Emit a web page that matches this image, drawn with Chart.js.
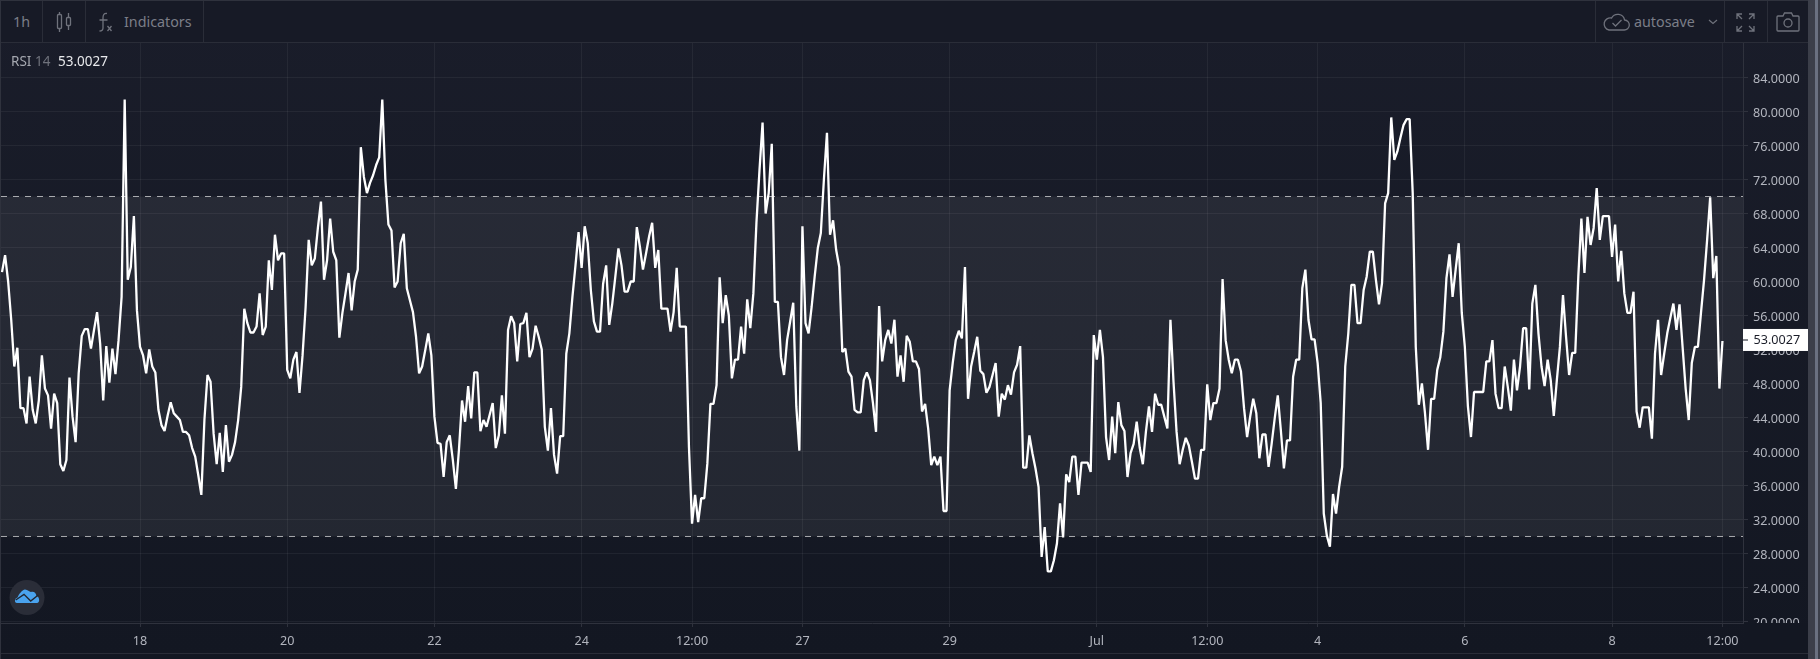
<!DOCTYPE html>
<html><head><meta charset="utf-8">
<style>
html,body{margin:0;padding:0;background:#2f323d;width:1820px;height:659px;overflow:hidden}
#wrap{position:absolute;left:0;top:0;width:1820px;height:659px;overflow:hidden;font-family:"Noto Sans",sans-serif}
#panel{position:absolute;left:1px;top:1px;width:1807px;height:658px;background:linear-gradient(#1a1d2a 0,#131722 653px)}
#tb{position:absolute;left:1px;top:1px;width:1807px;height:42px;background:#171a26;border-bottom:1px solid #2a2d38;box-sizing:border-box}
.sep{position:absolute;top:1px;width:1px;height:42px;background:#2a2d38}
.t{position:absolute;white-space:pre;font-size:14.3px;line-height:18px;color:#7b7e88}
canvas{position:absolute;left:0;top:0}
#mask{position:absolute;left:1744px;top:623px;width:64px;height:30px;background:#131722}
#botline{position:absolute;left:1px;top:653px;width:1807px;height:1px;background:#2a2d38}
#strip{position:absolute;left:1808px;top:0;width:12px;height:659px;background:#3b3e49}
#strip2{position:absolute;left:1815px;top:0;width:3px;height:659px;background:#6a7080}
svg{position:absolute;overflow:visible}
</style></head><body>
<div id="wrap">
<div id="panel"></div>
<canvas id="c" width="1820" height="659"></canvas>
<div id="mask"></div>
<div id="botline"></div>
<div id="tb"></div>
<div class="sep" style="left:42px"></div><div class="sep" style="left:85px"></div><div class="sep" style="left:203px"></div>
<div class="sep" style="left:1595px"></div><div class="sep" style="left:1724px"></div><div class="sep" style="left:1767px"></div>
<div id="strip"></div><div id="strip2"></div>
<div class="t" style="left:13px;top:13px">1h</div>
<svg style="left:56px;top:11px" width="18" height="22" fill="none" stroke="#6f727c" stroke-width="1.3"><rect x="1.5" y="3.5" width="4" height="14" rx="1"/><path d="M3.5 1v2.5M3.5 17.5V21"/><rect x="10.5" y="6.5" width="4" height="8" rx="1"/><path d="M12.5 2v4.500M12.500 14.500V19"/></svg>
<svg style="left:98px;top:12px" width="18" height="20" fill="none" stroke="#6f727c" stroke-width="1.300"><path d="M9 1.500C6 1 5 3 5 6v10c0 2-1 3-3.500 3M1.500 8h8"/><path d="M9.500 14l4 5M13.500 14l-4 5"/></svg>
<div class="t" style="left:124px;top:13px">Indicators</div>
<svg style="left:1603px;top:12px" width="28" height="20" fill="none" stroke="#6f727c" stroke-width="1.300"><path d="M6 18h15a5 5 0 0 0 .6-10 7 7 0 0 0-13-2A6 6 0 0 0 6 18z"/><path d="M9.500 11l3 3 6-6"/></svg>
<div class="t" style="left:1634px;top:13px">autosave</div>
<svg style="left:1708px;top:19px" width="10" height="6" fill="none" stroke="#6f727c" stroke-width="1.200"><path d="M1 1l4 3.500L9 1"/></svg>
<svg style="left:1736px;top:13px" width="19" height="19" fill="none" stroke="#6f727c" stroke-width="1.300"><path d="M1 6V1h5M1 1l5 5M18 6V1h-5M18 1l-5 5M1 13v5h5M1 18l5-5M18 13v5h-5M18 18l-5-5"/></svg>
<svg style="left:1776px;top:12px" width="24" height="20" fill="none" stroke="#6f727c" stroke-width="1.300"><path d="M2 4h5l1.500-3h7l1.500 3h5a1 1 0 0 1 1 1v13a1 1 0 0 1-1 1H2a1 1 0 0 1-1-1V5a1 1 0 0 1 1-1z"/><circle cx="12" cy="11" r="4"/></svg>
<div class="t" style="left:11px;top:52px;font-size:13.5px;color:#a5a8b0">RSI <span style="color:#6f727c">14</span></div>
<div class="t" style="left:58px;top:52px;font-size:13.5px;color:#e8e9ec">53.0027</div>
<svg style="left:9px;top:580px" width="36" height="36"><circle cx="18" cy="17.500" r="17.500" fill="#2a2d38"/><path d="M8 23C5 23 5.500 18 8.500 17.500 10 14 13 10 16 9.500 19 9.500 20 12 22 12 24 11 27 12 27.500 16 31 17 31 23 28 23Z" fill="#4aa3ee"/><path d="M6.700 20L15 14.300 21.700 21 29.300 15" fill="none" stroke="#22252f" stroke-width="1.400"/></svg>
</div>
<script src="https://cdn.jsdelivr.net/npm/chart.js@4/dist/chart.umd.min.js"></script>
<script>
const rsiValues = [
61.1,63.1,60.0,55.5,50.0,52.2,45.1,45.1,43.3,48.8,44.9,43.3,46.0,51.3,47.4,46.6,42.7,46.8,45.7,38.5,
37.7,39.0,48.7,44.1,41.1,49.2,53.6,54.4,54.4,52.1,54.3,56.4,52.7,46.0,52.4,48.1,52.1,49.1,53.1,58.2,
81.4,60.2,61.7,67.7,56.6,52.3,51.3,49.2,52.0,50.0,49.3,44.9,43.1,42.4,44.2,45.8,44.5,44.1,43.7,42.3,
42.3,41.9,40.4,39.4,37.2,34.9,43.7,49.0,48.2,42.1,38.5,42.2,37.6,43.1,38.8,39.6,41.1,43.7,47.6,56.8,
55.1,54.0,54.0,54.7,58.6,53.7,54.7,62.5,59.0,65.5,62.5,63.3,63.3,49.6,48.6,50.8,51.7,46.9,51.3,57.0,
64.9,61.9,62.7,66.3,69.4,60.2,62.5,67.4,63.5,62.5,53.4,56.3,58.6,61.0,56.6,60.0,61.4,75.8,72.3,70.4,
71.6,72.5,73.7,74.6,81.4,72.0,66.7,66.0,59.3,60.0,64.5,65.6,59.2,57.8,56.4,53.5,49.2,50.0,51.9,53.9,
51.3,44.1,41.0,40.9,37.0,41.1,41.9,39.0,35.6,40.2,46.0,43.5,47.7,43.9,49.3,49.3,42.4,43.7,42.9,44.3,
45.7,40.4,41.9,46.6,42.1,54.3,55.9,55.1,50.6,55.0,55.1,56.3,51.1,52.1,54.8,53.5,52.0,42.9,40.1,45.1,
39.6,37.4,41.8,41.8,51.5,53.9,58.2,61.9,65.8,61.6,66.5,64.5,59.0,55.3,54.1,54.1,59.7,61.9,54.9,57.4,
60.6,63.9,61.9,58.8,58.8,60.0,60.0,66.4,64.1,61.4,63.3,65.3,66.9,61.6,63.7,56.8,56.8,56.8,54.1,56.4,
61.6,54.7,54.7,54.7,40.5,31.5,34.9,31.7,34.5,34.5,38.6,45.6,45.6,47.8,60.5,55.1,58.4,56.0,48.6,50.8,
50.8,54.7,51.5,57.9,54.5,58.6,66.9,73.1,78.7,68.0,70.4,76.2,57.6,57.6,51.1,49.0,53.1,55.3,57.5,45.3,
40.1,66.5,55.1,53.9,57.0,60.6,63.9,65.7,72.0,77.5,65.5,67.2,63.7,61.7,51.7,52.1,49.4,48.8,44.9,44.6,
44.6,48.4,49.3,48.4,45.7,42.3,57.1,50.6,53.1,54.3,52.7,55.5,48.8,51.3,48.2,53.6,52.9,50.6,50.6,49.7,
44.7,45.6,42.7,38.4,39.4,38.4,39.4,33.0,33.0,47.2,50.4,53.1,54.2,53.3,61.7,46.2,50.0,51.7,53.5,49.5,
49.1,46.9,47.6,49.0,50.4,44.1,46.8,46.1,47.8,46.7,49.3,50.2,52.4,38.1,38.1,41.9,39.8,38.0,35.8,27.6,
31.1,25.9,25.9,27.2,29.2,33.9,29.9,37.3,36.4,39.4,39.4,34.9,38.7,38.7,38.7,37.6,53.7,50.8,54.3,51.1,
41.7,39.0,44.1,39.8,45.8,43.1,42.4,37.0,39.8,40.9,43.5,40.4,38.5,42.3,45.3,42.3,46.8,45.5,45.5,44.1,
42.7,55.5,48.2,42.3,38.5,40.2,41.6,40.7,38.8,36.8,36.8,40.2,40.2,47.9,43.7,45.7,45.7,47.4,60.3,53.1,
50.8,49.2,50.8,50.8,49.4,45.1,41.7,44.1,46.2,44.5,39.2,42.0,42.0,38.2,40.9,43.9,46.6,42.5,38.0,41.3,
41.3,48.8,50.8,50.8,59.2,61.4,55.5,53.2,53.2,50.4,45.7,32.7,30.1,28.8,35.0,32.7,35.8,38.2,50.0,53.9,
59.6,59.6,55.1,55.1,59.0,60.6,63.5,63.5,60.2,57.3,59.8,69.2,70.4,79.3,74.3,75.3,76.9,78.4,79.1,79.1,
70.4,52.3,45.5,48.0,44.5,40.2,46.2,46.2,49.6,51.1,54.1,60.4,63.2,58.2,61.4,64.5,56.3,52.3,45.3,41.7,
47.0,47.0,47.0,47.0,50.6,50.6,53.1,46.8,45.1,45.1,50.0,47.6,44.8,50.8,47.2,50.0,54.5,54.5,47.3,57.4,
59.6,53.9,50.0,47.7,50.8,48.4,44.2,48.4,52.3,58.4,53.5,49.0,51.6,51.6,60.6,67.4,61.0,67.6,64.3,66.3,
71.0,64.9,67.7,67.7,67.7,62.9,66.7,60.0,63.6,58.6,56.3,56.3,58.8,44.7,42.8,45.2,45.2,45.2,41.5,51.5,
55.5,49.0,51.5,53.9,55.7,57.4,54.3,57.3,52.3,47.4,43.7,50.4,52.3,52.3,56.3,60.2,64.9,69.9,60.4,63.0,
47.4,53.0027];
const xTickHours = [45,93,141,189,225,261,309,357,393,429,477,525,561];
const xTickLabels = ['18','20','22','24','12:00','27','29','Jul','12:00','4','6','8','12:00'];
const yTickValues = [20,24,28,32,36,40,44,48,52,56,60,64,68,72,76,80,84];
const bandLimits = [70,30];
const lastLabel = '53.0027';
const xMin = -0.33, xMax = 567.7, yMin = 19.82, yMax = 88.06;

const GRID = 'rgba(255,255,255,0.055)';
const FONT = {family:'"Noto Sans",sans-serif', size:12.6};
const hline = v => [{x:xMin,y:v},{x:xMax,y:v}];
const lastTag = {
  id:'lastTag',
  afterDraw(ch){
    const c=ch.ctx, y=ch.scales.y.getPixelForValue(rsiValues[rsiValues.length-1])-1;
    const L=1743,R=1809,H=22;
    c.save();
    c.fillStyle='#fff'; c.fillRect(L,y-H/2,R-L,H);
    c.fillStyle='#131722'; c.fillRect(L,Math.round(y)-0.5,5,1);
    c.font='12.6px "Noto Sans",sans-serif'; c.textAlign='left'; c.textBaseline='middle';
    c.fillStyle='#1b1e29'; c.fillText(lastLabel,1753.5,y+0.5);
    c.restore();
  }
};
new Chart(document.getElementById('c'),{
  type:'line',
  data:{datasets:[
    {label:'Upper',data:hline(bandLimits[0]),borderColor:'rgba(255,255,255,0.62)',borderWidth:1,borderDash:[6,6],pointRadius:0,fill:'+1',backgroundColor:'rgba(255,255,255,0.065)',order:2},
    {label:'Lower',data:hline(bandLimits[1]),borderColor:'rgba(255,255,255,0.62)',borderWidth:1,borderDash:[6,6],pointRadius:0,fill:false,order:2},
    {label:'RSI 14',data:rsiValues.map((v,i)=>({x:i,y:v})),borderColor:'#ffffff',borderWidth:2.3,pointRadius:0,tension:0,fill:false,order:1,borderJoinStyle:'bevel',borderCapStyle:'butt'}
  ]},
  options:{
    responsive:false,animation:false,parsing:true,
    layout:{padding:{left:1,top:43,right:12,bottom:6}},
    plugins:{legend:{display:false},tooltip:{enabled:false},filler:{propagate:false}},
    scales:{
      x:{type:'linear',min:xMin,max:xMax,
        afterBuildTicks(s){s.ticks=xTickHours.map(v=>({value:v}));},
        afterFit(s){s.height=30;},
        grid:{color:GRID,tickColor:'#2f323d',tickLength:4,drawTicks:true},
        border:{color:'#2f323d'},
        ticks:{autoSkip:false,maxRotation:0,minRotation:0,padding:7,color:'#b2b5be',font:FONT,
          callback:v=>xTickLabels[xTickHours.indexOf(v)]}
      },
      y:{type:'linear',position:'right',min:yMin,max:yMax,
        afterBuildTicks(s){s.ticks=yTickValues.map(v=>({value:v}));},
        afterFit(s){s.width=65;},
        grid:{color:GRID,tickColor:'#2f323d',tickLength:5,drawTicks:true},
        border:{color:'#2f323d'},
        ticks:{autoSkip:false,crossAlign:'near',padding:5,labelOffset:2,color:'#b2b5be',font:FONT,
          callback:v=>Number(v).toFixed(4)}
      }
    }
  },
  plugins:[lastTag]
});
</script>
</body></html>
